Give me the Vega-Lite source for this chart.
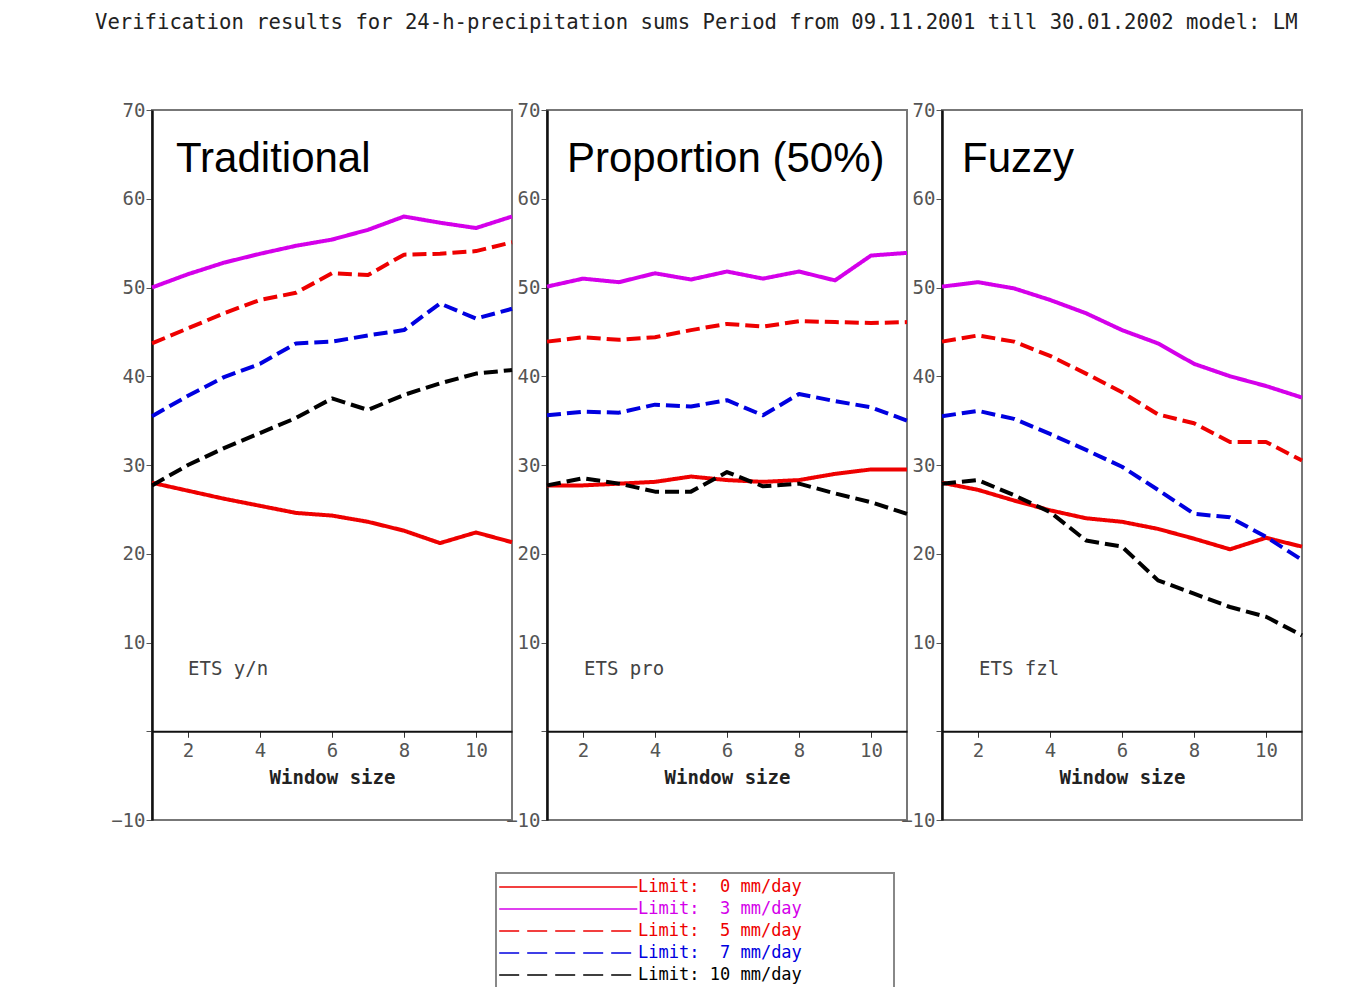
{
  "$schema": "https://vega.github.io/schema/vega-lite/v6.json",
  "background": "white",
  "padding": {"left": 95, "top": 13, "right": 5, "bottom": 5},
  "title": {
    "text": "Verification results for 24-h-precipitation sums Period from 09.11.2001 till 30.01.2002 model: LM",
    "font": "DejaVu Sans Mono", "fontSize": 20.6, "fontWeight": "normal", "color": "#222",
    "anchor": "middle", "offset": 66, "dx": -11
  },
  "datasets": {
    "ets": [
      {"m":"T","w":1,"l":"0","v":28.0},{"m":"T","w":2,"l":"0","v":27.1},{"m":"T","w":3,"l":"0","v":26.2},{"m":"T","w":4,"l":"0","v":25.4},{"m":"T","w":5,"l":"0","v":24.6},{"m":"T","w":6,"l":"0","v":24.3},{"m":"T","w":7,"l":"0","v":23.6},{"m":"T","w":8,"l":"0","v":22.6},{"m":"T","w":9,"l":"0","v":21.2},{"m":"T","w":10,"l":"0","v":22.4},{"m":"T","w":11,"l":"0","v":21.3},
      {"m":"T","w":1,"l":"3","v":50.0},{"m":"T","w":2,"l":"3","v":51.5},{"m":"T","w":3,"l":"3","v":52.8},{"m":"T","w":4,"l":"3","v":53.8},{"m":"T","w":5,"l":"3","v":54.7},{"m":"T","w":6,"l":"3","v":55.4},{"m":"T","w":7,"l":"3","v":56.5},{"m":"T","w":8,"l":"3","v":58.0},{"m":"T","w":9,"l":"3","v":57.3},{"m":"T","w":10,"l":"3","v":56.7},{"m":"T","w":11,"l":"3","v":58.0},
      {"m":"T","w":1,"l":"5","v":43.7},{"m":"T","w":2,"l":"5","v":45.4},{"m":"T","w":3,"l":"5","v":47.1},{"m":"T","w":4,"l":"5","v":48.6},{"m":"T","w":5,"l":"5","v":49.4},{"m":"T","w":6,"l":"5","v":51.6},{"m":"T","w":7,"l":"5","v":51.4},{"m":"T","w":8,"l":"5","v":53.7},{"m":"T","w":9,"l":"5","v":53.8},{"m":"T","w":10,"l":"5","v":54.1},{"m":"T","w":11,"l":"5","v":55.1},
      {"m":"T","w":1,"l":"7","v":35.5},{"m":"T","w":2,"l":"7","v":37.8},{"m":"T","w":3,"l":"7","v":39.9},{"m":"T","w":4,"l":"7","v":41.4},{"m":"T","w":5,"l":"7","v":43.7},{"m":"T","w":6,"l":"7","v":43.9},{"m":"T","w":7,"l":"7","v":44.6},{"m":"T","w":8,"l":"7","v":45.2},{"m":"T","w":9,"l":"7","v":48.2},{"m":"T","w":10,"l":"7","v":46.5},{"m":"T","w":11,"l":"7","v":47.6},
      {"m":"T","w":1,"l":"10","v":27.7},{"m":"T","w":2,"l":"10","v":30.0},{"m":"T","w":3,"l":"10","v":31.9},{"m":"T","w":4,"l":"10","v":33.6},{"m":"T","w":5,"l":"10","v":35.3},{"m":"T","w":6,"l":"10","v":37.5},{"m":"T","w":7,"l":"10","v":36.2},{"m":"T","w":8,"l":"10","v":37.9},{"m":"T","w":9,"l":"10","v":39.2},{"m":"T","w":10,"l":"10","v":40.3},{"m":"T","w":11,"l":"10","v":40.7},
      {"m":"P","w":1,"l":"0","v":27.7},{"m":"P","w":2,"l":"0","v":27.7},{"m":"P","w":3,"l":"0","v":27.9},{"m":"P","w":4,"l":"0","v":28.1},{"m":"P","w":5,"l":"0","v":28.7},{"m":"P","w":6,"l":"0","v":28.3},{"m":"P","w":7,"l":"0","v":28.1},{"m":"P","w":8,"l":"0","v":28.3},{"m":"P","w":9,"l":"0","v":29.0},{"m":"P","w":10,"l":"0","v":29.5},{"m":"P","w":11,"l":"0","v":29.5},
      {"m":"P","w":1,"l":"3","v":50.1},{"m":"P","w":2,"l":"3","v":51.0},{"m":"P","w":3,"l":"3","v":50.6},{"m":"P","w":4,"l":"3","v":51.6},{"m":"P","w":5,"l":"3","v":50.9},{"m":"P","w":6,"l":"3","v":51.8},{"m":"P","w":7,"l":"3","v":51.0},{"m":"P","w":8,"l":"3","v":51.8},{"m":"P","w":9,"l":"3","v":50.8},{"m":"P","w":10,"l":"3","v":53.6},{"m":"P","w":11,"l":"3","v":53.9},
      {"m":"P","w":1,"l":"5","v":43.9},{"m":"P","w":2,"l":"5","v":44.4},{"m":"P","w":3,"l":"5","v":44.1},{"m":"P","w":4,"l":"5","v":44.4},{"m":"P","w":5,"l":"5","v":45.2},{"m":"P","w":6,"l":"5","v":45.9},{"m":"P","w":7,"l":"5","v":45.6},{"m":"P","w":8,"l":"5","v":46.2},{"m":"P","w":9,"l":"5","v":46.1},{"m":"P","w":10,"l":"5","v":46.0},{"m":"P","w":11,"l":"5","v":46.1},
      {"m":"P","w":1,"l":"7","v":35.6},{"m":"P","w":2,"l":"7","v":36.0},{"m":"P","w":3,"l":"7","v":35.9},{"m":"P","w":4,"l":"7","v":36.8},{"m":"P","w":5,"l":"7","v":36.6},{"m":"P","w":6,"l":"7","v":37.3},{"m":"P","w":7,"l":"7","v":35.6},{"m":"P","w":8,"l":"7","v":38.0},{"m":"P","w":9,"l":"7","v":37.2},{"m":"P","w":10,"l":"7","v":36.5},{"m":"P","w":11,"l":"7","v":35.0},
      {"m":"P","w":1,"l":"10","v":27.7},{"m":"P","w":2,"l":"10","v":28.5},{"m":"P","w":3,"l":"10","v":27.9},{"m":"P","w":4,"l":"10","v":27.0},{"m":"P","w":5,"l":"10","v":27.0},{"m":"P","w":6,"l":"10","v":29.2},{"m":"P","w":7,"l":"10","v":27.6},{"m":"P","w":8,"l":"10","v":27.9},{"m":"P","w":9,"l":"10","v":26.8},{"m":"P","w":10,"l":"10","v":25.8},{"m":"P","w":11,"l":"10","v":24.5},
      {"m":"F","w":1,"l":"0","v":28.0},{"m":"F","w":2,"l":"0","v":27.2},{"m":"F","w":3,"l":"0","v":26.0},{"m":"F","w":4,"l":"0","v":24.9},{"m":"F","w":5,"l":"0","v":24.0},{"m":"F","w":6,"l":"0","v":23.6},{"m":"F","w":7,"l":"0","v":22.8},{"m":"F","w":8,"l":"0","v":21.7},{"m":"F","w":9,"l":"0","v":20.5},{"m":"F","w":10,"l":"0","v":21.8},{"m":"F","w":11,"l":"0","v":20.8},
      {"m":"F","w":1,"l":"3","v":50.1},{"m":"F","w":2,"l":"3","v":50.6},{"m":"F","w":3,"l":"3","v":49.9},{"m":"F","w":4,"l":"3","v":48.6},{"m":"F","w":5,"l":"3","v":47.1},{"m":"F","w":6,"l":"3","v":45.2},{"m":"F","w":7,"l":"3","v":43.7},{"m":"F","w":8,"l":"3","v":41.4},{"m":"F","w":9,"l":"3","v":40.0},{"m":"F","w":10,"l":"3","v":38.9},{"m":"F","w":11,"l":"3","v":37.6},
      {"m":"F","w":1,"l":"5","v":43.9},{"m":"F","w":2,"l":"5","v":44.6},{"m":"F","w":3,"l":"5","v":43.9},{"m":"F","w":4,"l":"5","v":42.3},{"m":"F","w":5,"l":"5","v":40.3},{"m":"F","w":6,"l":"5","v":38.2},{"m":"F","w":7,"l":"5","v":35.7},{"m":"F","w":8,"l":"5","v":34.7},{"m":"F","w":9,"l":"5","v":32.6},{"m":"F","w":10,"l":"5","v":32.6},{"m":"F","w":11,"l":"5","v":30.5},
      {"m":"F","w":1,"l":"7","v":35.5},{"m":"F","w":2,"l":"7","v":36.1},{"m":"F","w":3,"l":"7","v":35.2},{"m":"F","w":4,"l":"7","v":33.5},{"m":"F","w":5,"l":"7","v":31.7},{"m":"F","w":6,"l":"7","v":29.8},{"m":"F","w":7,"l":"7","v":27.2},{"m":"F","w":8,"l":"7","v":24.5},{"m":"F","w":9,"l":"7","v":24.1},{"m":"F","w":10,"l":"7","v":21.9},{"m":"F","w":11,"l":"7","v":19.3},
      {"m":"F","w":1,"l":"10","v":27.9},{"m":"F","w":2,"l":"10","v":28.3},{"m":"F","w":3,"l":"10","v":26.6},{"m":"F","w":4,"l":"10","v":24.7},{"m":"F","w":5,"l":"10","v":21.5},{"m":"F","w":6,"l":"10","v":20.8},{"m":"F","w":7,"l":"10","v":17.0},{"m":"F","w":8,"l":"10","v":15.5},{"m":"F","w":9,"l":"10","v":14.0},{"m":"F","w":10,"l":"10","v":12.9},{"m":"F","w":11,"l":"10","v":10.8}
    ],
    "labels": [
      {"m":"T","title":"Traditional","tag":"ETS y/n"},
      {"m":"P","title":"Proportion (50%)","tag":"ETS pro"},
      {"m":"F","title":"Fuzzy","tag":"ETS fzl"}
    ],
    "limits": [
      {"l":"0","text":"Limit:\u00a0\u00a00\u00a0mm/day"},
      {"l":"3","text":"Limit:\u00a0\u00a03\u00a0mm/day"},
      {"l":"5","text":"Limit:\u00a0\u00a05\u00a0mm/day"},
      {"l":"7","text":"Limit:\u00a0\u00a07\u00a0mm/day"},
      {"l":"10","text":"Limit:\u00a010\u00a0mm/day"}
    ]
  },
  "spacing": 41,
  "vconcat": [
    {
      "hconcat": [
        {
          "width": 360, "height": 710,
          "layer": [
            {
              "data": {"name": "ets"},
              "transform": [{"filter": "datum.m == 'T'"}],
              "mark": {"type": "line", "strokeWidth": 4, "strokeCap": "butt", "strokeJoin": "round"},
              "encoding": {
                "x": {"field": "w", "type": "quantitative", "scale": {"domain": [1, 11], "nice": false, "zero": false},
                  "axis": {"values": [2,4,6,8,10], "offset": -88.75, "title": "Window size", "tickSize": 6, "labelPadding": 4, "titlePadding": 8, "domainWidth": 2, "domainColor": "#111", "tickColor": "#333"}},
                "y": {"field": "v", "type": "quantitative", "scale": {"domain": [-10, 70], "nice": false, "zero": false},
                  "axis": {"values": [-10,0,10,20,30,40,50,60,70], "labelExpr": "datum.value == 0 ? '' : datum.label", "title": null, "tickSize": 6, "labelPadding": 1, "domainWidth": 2.5, "domainColor": "#111", "tickColor": "#555"}},
                "color": {"field": "l", "type": "nominal", "scale": {"domain": ["0","3","5","7","10"], "range": ["#ee0000","#d400ea","#ee0000","#0000e0","#000000"]}, "legend": null},
                "strokeDash": {"field": "l", "type": "nominal", "scale": {"domain": ["0","3","5","7","10"], "range": [[1,0],[1,0],[14,6],[14,6],[14,6]]}, "legend": null}
              }
            },
            {
              "data": {"name": "labels"},
              "transform": [{"filter": "datum.m == 'T'"}],
              "mark": {"type": "text", "font": "Liberation Sans", "fontSize": 42, "align": "left", "baseline": "alphabetic", "color": "#000"},
              "encoding": {"x": {"datum": 1.667}, "y": {"datum": 63}, "text": {"field": "title"}}
            },
            {
              "data": {"name": "labels"},
              "transform": [{"filter": "datum.m == 'T'"}],
              "mark": {"type": "text", "font": "DejaVu Sans Mono", "fontSize": 19, "align": "left", "baseline": "alphabetic", "color": "#444"},
              "encoding": {"x": {"datum": 2.0}, "y": {"datum": 6.3}, "text": {"field": "tag"}}
            }
          ]
        },
        {
          "width": 360, "height": 710,
          "layer": [
            {
              "data": {"name": "ets"},
              "transform": [{"filter": "datum.m == 'P'"}],
              "mark": {"type": "line", "strokeWidth": 4, "strokeCap": "butt", "strokeJoin": "round"},
              "encoding": {
                "x": {"field": "w", "type": "quantitative", "scale": {"domain": [1, 11], "nice": false, "zero": false},
                  "axis": {"values": [2,4,6,8,10], "offset": -88.75, "title": "Window size", "tickSize": 6, "labelPadding": 4, "titlePadding": 8, "domainWidth": 2, "domainColor": "#111", "tickColor": "#333"}},
                "y": {"field": "v", "type": "quantitative", "scale": {"domain": [-10, 70], "nice": false, "zero": false},
                  "axis": {"values": [-10,0,10,20,30,40,50,60,70], "labelExpr": "datum.value == 0 ? '' : datum.label", "title": null, "tickSize": 6, "labelPadding": 1, "domainWidth": 2.5, "domainColor": "#111", "tickColor": "#555"}},
                "color": {"field": "l", "type": "nominal", "scale": {"domain": ["0","3","5","7","10"], "range": ["#ee0000","#d400ea","#ee0000","#0000e0","#000000"]}, "legend": null},
                "strokeDash": {"field": "l", "type": "nominal", "scale": {"domain": ["0","3","5","7","10"], "range": [[1,0],[1,0],[14,6],[14,6],[14,6]]}, "legend": null}
              }
            },
            {
              "data": {"name": "labels"},
              "transform": [{"filter": "datum.m == 'P'"}],
              "mark": {"type": "text", "font": "Liberation Sans", "fontSize": 42, "align": "left", "baseline": "alphabetic", "color": "#000"},
              "encoding": {"x": {"datum": 1.556}, "y": {"datum": 63}, "text": {"field": "title"}}
            },
            {
              "data": {"name": "labels"},
              "transform": [{"filter": "datum.m == 'P'"}],
              "mark": {"type": "text", "font": "DejaVu Sans Mono", "fontSize": 19, "align": "left", "baseline": "alphabetic", "color": "#444"},
              "encoding": {"x": {"datum": 2.03}, "y": {"datum": 6.3}, "text": {"field": "tag"}}
            }
          ]
        },
        {
          "width": 360, "height": 710,
          "layer": [
            {
              "data": {"name": "ets"},
              "transform": [{"filter": "datum.m == 'F'"}],
              "mark": {"type": "line", "strokeWidth": 4, "strokeCap": "butt", "strokeJoin": "round"},
              "encoding": {
                "x": {"field": "w", "type": "quantitative", "scale": {"domain": [1, 11], "nice": false, "zero": false},
                  "axis": {"values": [2,4,6,8,10], "offset": -88.75, "title": "Window size", "tickSize": 6, "labelPadding": 4, "titlePadding": 8, "domainWidth": 2, "domainColor": "#111", "tickColor": "#333"}},
                "y": {"field": "v", "type": "quantitative", "scale": {"domain": [-10, 70], "nice": false, "zero": false},
                  "axis": {"values": [-10,0,10,20,30,40,50,60,70], "labelExpr": "datum.value == 0 ? '' : datum.label", "title": null, "tickSize": 6, "labelPadding": 1, "domainWidth": 2.5, "domainColor": "#111", "tickColor": "#555"}},
                "color": {"field": "l", "type": "nominal", "scale": {"domain": ["0","3","5","7","10"], "range": ["#ee0000","#d400ea","#ee0000","#0000e0","#000000"]}, "legend": null},
                "strokeDash": {"field": "l", "type": "nominal", "scale": {"domain": ["0","3","5","7","10"], "range": [[1,0],[1,0],[14,6],[14,6],[14,6]]}, "legend": null}
              }
            },
            {
              "data": {"name": "labels"},
              "transform": [{"filter": "datum.m == 'F'"}],
              "mark": {"type": "text", "font": "Liberation Sans", "fontSize": 42, "align": "left", "baseline": "alphabetic", "color": "#000"},
              "encoding": {"x": {"datum": 1.556}, "y": {"datum": 63}, "text": {"field": "title"}}
            },
            {
              "data": {"name": "labels"},
              "transform": [{"filter": "datum.m == 'F'"}],
              "mark": {"type": "text", "font": "DejaVu Sans Mono", "fontSize": 19, "align": "left", "baseline": "alphabetic", "color": "#444"},
              "encoding": {"x": {"datum": 2.03}, "y": {"datum": 6.3}, "text": {"field": "tag"}}
            }
          ]
        }
      ],
      "spacing": 35,
      "bounds": "flush"
    },
    {
      "hconcat": [
        {
          "width": 343, "height": 1,
          "data": {"values": []},
          "mark": "point",
          "view": {"stroke": null}
        },
        {
          "width": 398, "height": 116,
          "data": {"name": "limits"},
          "view": {"stroke": "#888", "strokeWidth": 2},
          "layer": [
            {
              "transform": [{"filter": "datum.l == '0' || datum.l == '3'"}],
              "mark": {"type": "rule", "strokeWidth": 1.5},
              "encoding": {
                "x": {"datum": 0.008, "type": "quantitative", "scale": {"domain": [0, 1], "nice": false, "zero": false}, "axis": null},
                "x2": {"datum": 0.355},
                "y": {"field": "l", "type": "ordinal", "sort": ["0","3","5","7","10"], "scale": {"type": "point", "padding": 0.636}, "axis": null},
                "color": {"field": "l", "type": "nominal", "scale": {"domain": ["0","3","5","7","10"], "range": ["#ee0000","#d400ea","#ee0000","#0000e0","#000000"]}, "legend": null}
              }
            },
            {
              "transform": [{"filter": "datum.l != '0' && datum.l != '3'"}],
              "mark": {"type": "rule", "strokeWidth": 1.5, "strokeDash": [20, 8]},
              "encoding": {
                "x": {"datum": 0.008, "type": "quantitative", "scale": {"domain": [0, 1], "nice": false, "zero": false}, "axis": null},
                "x2": {"datum": 0.355},
                "y": {"field": "l", "type": "ordinal", "sort": ["0","3","5","7","10"], "scale": {"type": "point", "padding": 0.636}, "axis": null},
                "color": {"field": "l", "type": "nominal", "scale": {"domain": ["0","3","5","7","10"], "range": ["#ee0000","#d400ea","#ee0000","#0000e0","#000000"]}, "legend": null}
              }
            },
            {
              "mark": {"type": "text", "font": "DejaVu Sans Mono", "fontSize": 17, "align": "left", "baseline": "middle"},
              "encoding": {
                "x": {"datum": 0.357, "type": "quantitative", "scale": {"domain": [0, 1], "nice": false, "zero": false}, "axis": null},
                "y": {"field": "l", "type": "ordinal", "sort": ["0","3","5","7","10"], "scale": {"type": "point", "padding": 0.636}, "axis": null},
                "text": {"field": "text"},
                "color": {"field": "l", "type": "nominal", "scale": {"domain": ["0","3","5","7","10"], "range": ["#ee0000","#d400ea","#ee0000","#0000e0","#000000"]}, "legend": null}
              }
            }
          ]
        }
      ],
      "spacing": 0
    }
  ],
  "config": {
    "view": {"stroke": "#777", "strokeWidth": 2},
    "axis": {
      "labelFont": "DejaVu Sans Mono", "labelFontSize": 19, "labelColor": "#555",
      "titleFont": "DejaVu Sans Mono", "titleFontSize": 19, "titleFontWeight": "bold", "titleColor": "#222",
      "grid": false
    }
  }
}
